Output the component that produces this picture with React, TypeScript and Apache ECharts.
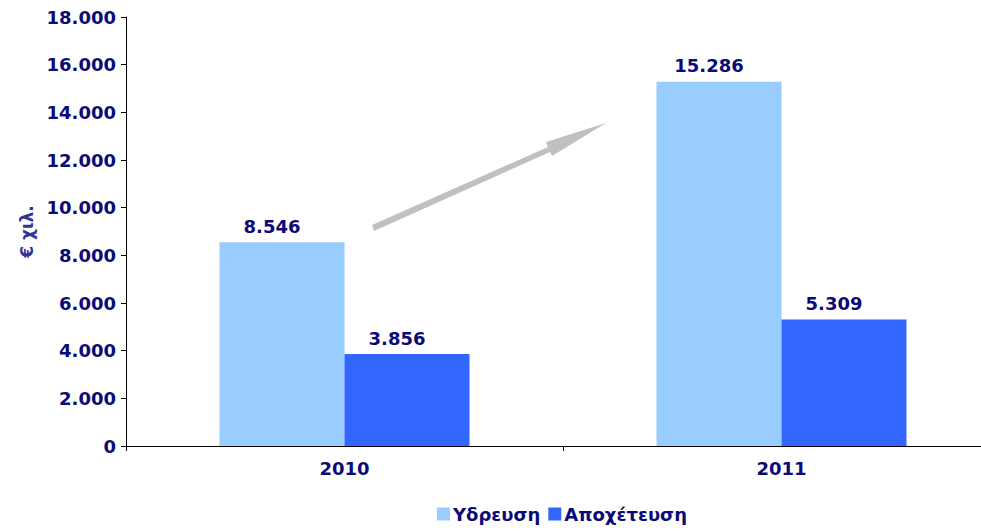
import React, { useEffect, useRef } from "react";
import * as echarts from "echarts";

const categories = ["2010", "2011"];
const seriesNames = ["Υδρευση", "Αποχέτευση"];
const ydreusiValues = [8546, 15286];
const apoxeteusiValues = [3856, 5309];
const yTicks = { min: 0, max: 18000, interval: 2000 };

const NAVY = "#0a0a78";
const FONT = "DejaVu Sans";

const fmt = (v: number) =>
  String(Math.round(v)).replace(/\B(?=(\d{3})+(?!\d))/g, ".");

export default function App() {
  const ref = useRef<HTMLDivElement>(null);
  useEffect(() => {
    if (!ref.current) return;
    const chart = echarts.init(ref.current, null, { renderer: "svg" });
    const labelCfg = {
      show: true,
      position: "top" as const,
      distance: 7,
      offset: [-10, 0],
      color: NAVY,
      fontFamily: FONT,
      fontWeight: "bold" as const,
      fontSize: 18,
      formatter: (p: any) => fmt(p.value),
    };
    chart.setOption({
      animation: false,
      backgroundColor: "#ffffff",
      textStyle: { fontFamily: FONT },
      grid: { left: 126, right: 0, top: 17, bottom: 85, containLabel: false },
      legend: {
        bottom: 3,
        left: 432,
        itemWidth: 13,
        itemHeight: 13,
        itemGap: 8,
        icon: "rect",
        textStyle: {
          color: NAVY,
          fontFamily: FONT,
          fontWeight: "bold",
          fontSize: 18,
          padding: [0, 0, 0, -2],
        },
        data: seriesNames,
      },
      xAxis: {
        type: "category",
        data: categories,
        axisLine: { lineStyle: { color: "#000000", width: 1 } },
        axisTick: { show: true, alignWithLabel: false, length: 5, lineStyle: { color: "#000" } },
        axisLabel: {
          color: NAVY,
          fontFamily: FONT,
          fontWeight: "bold",
          fontSize: 18,
          margin: 13,
        },
        splitLine: { show: false },
      },
      yAxis: {
        type: "value",
        min: yTicks.min,
        max: yTicks.max,
        interval: yTicks.interval,
        name: "€ χιλ.",
        nameLocation: "middle",
        nameGap: 90,
        nameRotate: 90,
        nameTextStyle: {
          color: "#333399",
          fontFamily: FONT,
          fontWeight: "bold",
          fontSize: 17,
        },
        axisLine: { show: true, lineStyle: { color: "#000000", width: 1 } },
        axisTick: { show: true, length: 5, lineStyle: { color: "#000" } },
        axisLabel: {
          color: NAVY,
          fontFamily: FONT,
          fontWeight: "bold",
          fontSize: 18,
          margin: 10,
          formatter: (v: number) => fmt(v),
        },
        splitLine: { show: false },
      },
      series: [
        {
          name: seriesNames[0],
          type: "bar",
          data: ydreusiValues,
          barWidth: 125,
          barGap: "0%",
          itemStyle: { color: "#99ccff" },
          label: labelCfg,
        },
        {
          name: seriesNames[1],
          type: "bar",
          data: apoxeteusiValues,
          barWidth: 125,
          barGap: "0%",
          itemStyle: { color: "#3366ff" },
          label: labelCfg,
        },
      ],
      graphic: [
        {
          type: "polygon",
          silent: true,
          shape: {
            points: [
              [372, 225],
              [374, 231],
              [550, 152],
              [552, 156],
              [606, 123],
              [546, 142],
              [548, 147],
            ],
          },
          style: { fill: "#c0c0c0" },
        },
      ],
    });
    return () => chart.dispose();
  }, []);
  return (
    <div
      style={{
        position: "absolute",
        left: 0,
        top: 0,
        width: 981,
        height: 531,
        overflow: "hidden",
        background: "#fff",
      }}
    >
      <div ref={ref} style={{ width: 1000, height: 531 }} />
    </div>
  );
}
